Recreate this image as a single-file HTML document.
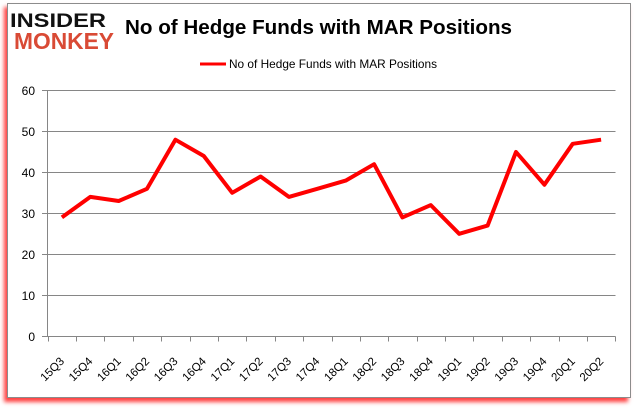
<!DOCTYPE html>
<html><head><meta charset="utf-8"><style>
html,body{margin:0;padding:0;background:#fff;width:637px;height:408px;overflow:hidden}
.frame{position:absolute;left:7px;top:3px;width:622px;height:393px;border:1px solid #8c8c8c;background:#fff;box-shadow:-3px 4px 4px rgba(255,0,0,0.75)}
svg{position:absolute;left:0;top:0}
text{font-family:"Liberation Sans",sans-serif}
</style></head><body>
<div class="frame"></div>
<svg width="637" height="408" viewBox="0 0 637 408">
<text x="10" y="27" font-size="19" font-weight="bold" fill="#111" textLength="96" lengthAdjust="spacingAndGlyphs">INSIDER</text>
<text x="14" y="49" font-size="23" font-weight="bold" fill="#d94a35" textLength="100" lengthAdjust="spacingAndGlyphs">MONKEY</text>
<text x="125" y="34" font-size="20" font-weight="bold" fill="#000" textLength="387" lengthAdjust="spacingAndGlyphs">No of Hedge Funds with MAR Positions</text>
<line x1="200" y1="64" x2="226" y2="64" stroke="#ff0000" stroke-width="3"/>
<text x="229" y="68" font-size="12" fill="#000" textLength="208" lengthAdjust="spacingAndGlyphs">No of Hedge Funds with MAR Positions</text>
<g stroke="#868686" stroke-width="1">
<line x1="42" y1="90.5" x2="615.5" y2="90.5"/>
<line x1="42" y1="131.5" x2="615.5" y2="131.5"/>
<line x1="42" y1="172.5" x2="615.5" y2="172.5"/>
<line x1="42" y1="213.5" x2="615.5" y2="213.5"/>
<line x1="42" y1="254.5" x2="615.5" y2="254.5"/>
<line x1="42" y1="295.5" x2="615.5" y2="295.5"/>
<line x1="42" y1="336.5" x2="615.5" y2="336.5"/>
<line x1="47.5" y1="90.5" x2="47.5" y2="336.5"/>
</g>
<g stroke="#868686" stroke-width="1" id="ticks"></g>
<g font-size="12" fill="#000" text-anchor="end">
<text x="35" y="95">60</text>
<text x="35" y="136">50</text>
<text x="35" y="177">40</text>
<text x="35" y="218">30</text>
<text x="35" y="259">20</text>
<text x="35" y="300">10</text>
<text x="35" y="341">0</text>
</g>
<g id="xl" font-size="11.5" fill="#000" text-anchor="end"></g>
<polyline id="ln" fill="none" stroke="#ff0000" stroke-width="4" stroke-linejoin="round" stroke-linecap="butt" points=""/>
</svg>
<script>
var vals=[29,34,33,36,48,44,35,39,34,36,38,42,29,32,25,27,45,37,47,48];
var labs=["15Q3","15Q4","16Q1","16Q2","16Q3","16Q4","17Q1","17Q2","17Q3","17Q4","18Q1","18Q2","18Q3","18Q4","19Q1","19Q2","19Q3","19Q4","20Q1","20Q2"];
var x0=47.7,w=28.38,ns="http://www.w3.org/2000/svg";
var pts=[];
var tk=document.getElementById("ticks"),xl=document.getElementById("xl");
for(var i=0;i<=20;i++){var l=document.createElementNS(ns,"line");var tx=Math.round(x0+w*i)+0.5;l.setAttribute("x1",tx);l.setAttribute("x2",tx);l.setAttribute("y1",336.5);l.setAttribute("y2",341.5);tk.appendChild(l);}
for(var i=0;i<20;i++){var cx=x0+w*(i+0.5);pts.push(cx.toFixed(1)+","+(336-vals[i]*4.09).toFixed(1));
var t=document.createElementNS(ns,"text");var px=cx+3,py=362;t.setAttribute("x",px);t.setAttribute("y",py);t.setAttribute("transform","rotate(-45 "+px+" "+py+")");t.textContent=labs[i];xl.appendChild(t);}
document.getElementById("ln").setAttribute("points",pts.join(" "));
</script>
</body></html>
